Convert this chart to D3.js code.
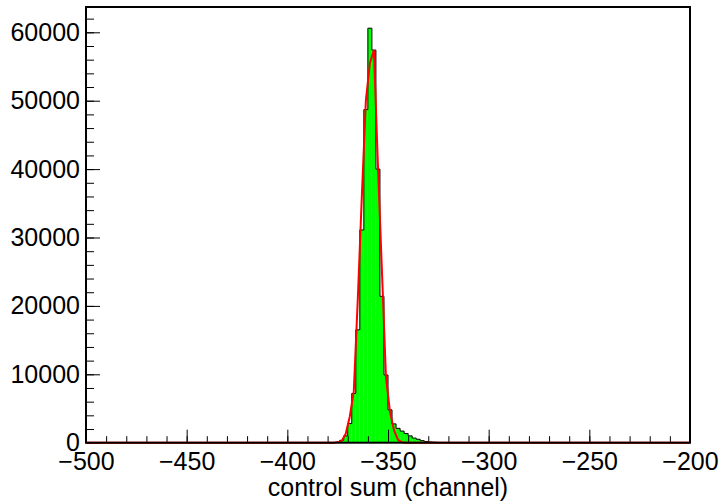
<!DOCTYPE html>
<html>
  <head>
    <meta charset="utf-8">
    <style>
      html,
      body { margin: 0; background: #fff; }
      text { font-family: 'Liberation Sans', Arial, sans-serif; }
    </style>
    <script src="https://d3js.org/d3.v7.js"></script>
  </head>
  <body>
    <svg class="chart"></svg>

    <script>
      const width = 720;
      const height = 504;
      const margin = { left: 86, right: 30, top: 7, bottom: 61.3 };
      const fontSize = 25;

      // histogram contents (bin lower edge, entries), bin width 2 channels
      const binWidth = 2;
      const binLow = [-378, -376, -374, -372, -370, -368, -366, -364, -362, -360,
                      -358, -356, -354, -352, -350, -348, -346, -344, -342, -340,
                      -338, -336, -334, -332, -330, -328, -326, -324, -322, -320];
      const counts = [20, 80, 350, 1000, 2800, 7200, 16500, 31100, 48700, 60600,
                      57400, 40000, 21400, 9900, 4800, 2750, 2100, 1700, 1350, 1000,
                      680, 500, 300, 180, 110, 70, 40, 25, 15, 10];

      // fitted function as drawn (x, value)
      const fitX = [-500, -377, -375, -373, -371, -369, -367, -365, -363, -361, -359,
                    -357, -355, -353, -351, -349, -347, -345, -343, -341, -200];
      const fitY = [0, 0, 50, 250, 1300, 3800, 7500, 21000, 36000, 50000, 55500,
                    57400, 40500, 25000, 9500, 4500, 1800, 400, 50, 0, 0];

      const xMajor = [-500, -450, -400, -350, -300, -250, -200];
      const yMajor = [0, 10000, 20000, 30000, 40000, 50000, 60000];
      const xDomain = [-500, -200];
      const yMax = 63700;

      const svg = d3.select('svg')
        .attr('width', width)
        .attr('height', height);

      const x = d3.scaleLinear()
        .domain(xDomain)
        .range([margin.left, width - margin.right]);

      const y = d3.scaleLinear()
        .domain([0, yMax])
        .range([height - margin.bottom, margin.top]);

      // full set of bins over the axis range
      const bins = d3.range(xDomain[0], xDomain[1], binWidth).map((lo) => {
        const i = binLow.indexOf(lo);
        return { lo, hi: lo + binWidth, c: i >= 0 ? counts[i] : 0 };
      });

      svg.append('g')
        .selectAll('rect')
        .data(bins.filter((d) => d.c > 0))
        .join('rect')
        .attr('x', (d) => x(d.lo))
        .attr('y', (d) => y(d.c))
        .attr('width', (d) => x(d.hi) - x(d.lo))
        .attr('height', (d) => y(0) - y(d.c))
        .style('fill', '#00ff00');

      const stepPts = [];
      bins.forEach((d) => {
        stepPts.push([d.lo, d.c], [d.hi, d.c]);
      });

      svg.append('path')
        .datum(stepPts)
        .attr('d', d3.line().x((d) => x(d[0])).y((d) => y(d[1])))
        .style('fill', 'none')
        .style('stroke', '#000')
        .style('stroke-width', 1);

      // axes: minor ticks without labels, major ticks with labels
      const xMinorAxis = d3.axisBottom(x)
        .tickValues(d3.range(-500, -199, 10))
        .tickSize(-6.5)
        .tickFormat('');
      const xMajorAxis = d3.axisBottom(x)
        .tickValues(xMajor)
        .tickSize(-13)
        .tickPadding(10)
        .tickFormat(d3.format('d'));

      const yMinorAxis = d3.axisLeft(y)
        .tickValues(d3.range(0, yMax, 2000))
        .tickSize(-8)
        .tickFormat('');
      const yMajorAxis = d3.axisLeft(y)
        .tickValues(yMajor)
        .tickSize(-14)
        .tickPadding(6)
        .tickFormat(d3.format('d'));

      [xMinorAxis, xMajorAxis].forEach((ax) => {
        svg.append('g')
          .attr('transform', `translate(0,${y(0)})`)
          .call(ax);
      });
      [yMinorAxis, yMajorAxis].forEach((ax) => {
        svg.append('g')
          .attr('transform', `translate(${x(xDomain[0])},0)`)
          .call(ax);
      });

      svg.selectAll('.domain').remove();
      svg.selectAll('.tick line').style('stroke', '#000').style('stroke-width', 1);
      svg.selectAll('.tick text')
        .style('font-size', `${fontSize}px`)
        .style('fill', '#000');

      // fit curve
      svg.append('path')
        .datum(fitX.map((v, i) => [v, fitY[i]]))
        .attr('d', d3.line().x((d) => x(d[0])).y((d) => y(d[1])))
        .style('fill', 'none')
        .style('stroke', '#ff0000')
        .style('stroke-width', 2);

      // frame
      svg.append('rect')
        .attr('x', x(xDomain[0]))
        .attr('y', y(yMax))
        .attr('width', x(xDomain[1]) - x(xDomain[0]))
        .attr('height', y(0) - y(yMax))
        .style('fill', 'none')
        .style('stroke', '#000')
        .style('stroke-width', 2);

      svg.append('text')
        .attr('x', (x(xDomain[0]) + x(xDomain[1])) / 2)
        .attr('y', 496)
        .attr('text-anchor', 'middle')
        .style('font-size', `${fontSize}px`)
        .text('control sum (channel)');
    </script>
  </body>
</html>
